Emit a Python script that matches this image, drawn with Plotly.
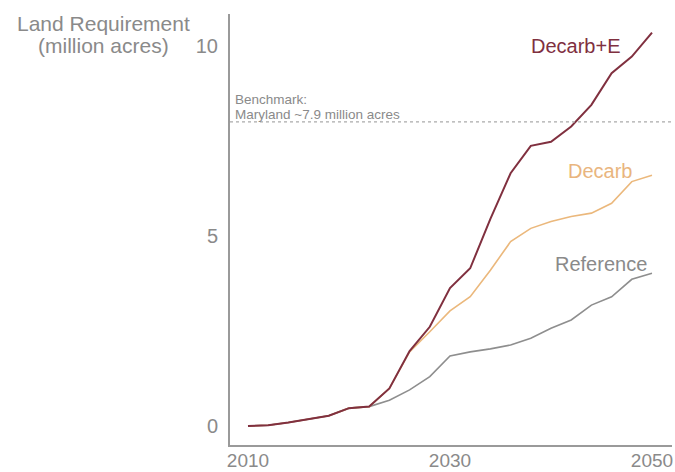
import plotly.graph_objects as go

years = [2010, 2012, 2014, 2016, 2018, 2020, 2022, 2024, 2026, 2028, 2030,
         2032, 2034, 2036, 2038, 2040, 2042, 2044, 2046, 2048, 2050]
reference = [0.0, 0.02, 0.09, 0.18, 0.27, 0.47, 0.51, 0.68, 0.95, 1.3, 1.84,
             1.95, 2.03, 2.13, 2.31, 2.57, 2.79, 3.18, 3.4, 3.86, 4.02]
decarb = [0.0, 0.02, 0.09, 0.18, 0.27, 0.47, 0.51, 0.99, 1.95, 2.48, 3.03,
          3.4, 4.1, 4.85, 5.2, 5.38, 5.51, 5.6, 5.86, 6.43, 6.6]
decarb_e = [0.0, 0.02, 0.09, 0.18, 0.27, 0.47, 0.51, 0.99, 1.97, 2.61, 3.63,
            4.15, 5.45, 6.65, 7.37, 7.48, 7.88, 8.45, 9.28, 9.72, 10.35]
benchmark = 8.0
benchmark_text = ["Benchmark:", "Maryland ~7.9 million acres"]
series_names = ["Reference", "Decarb", "Decarb+E"]
ticks_x = [2010, 2030, 2050]
ticks_y = [0, 5, 10]
title_lines = ["Land Requirement", "(million acres)"]

colors = {"Reference": "#8e8e8e", "Decarb": "#ebb87c", "Decarb+E": "#80303f"}
label_colors = {"Reference": "#8a8a8a", "Decarb": "#e9b57e", "Decarb+E": "#80303f"}
widths = {"Reference": 1.6, "Decarb": 1.6, "Decarb+E": 2.0}
data = {"Reference": reference, "Decarb": decarb, "Decarb+E": decarb_e}

fig = go.Figure()
for name in series_names:
    fig.add_trace(go.Scatter(x=years, y=data[name], mode="lines", name=name,
                             line=dict(color=colors[name], width=widths[name]),
                             showlegend=False, hoverinfo="skip"))

fig.add_shape(type="line", xref="paper", yref="y", x0=0, x1=1,
              y0=benchmark, y1=benchmark,
              line=dict(color="#aaaaaa", width=1.2, dash="dot"))

gray = "#8a8a8a"
font = "Liberation Sans, Arial, sans-serif"

# benchmark text (two lines placed separately for tighter spacing)
for i, line in enumerate(benchmark_text):
    fig.add_annotation(xref="paper", yref="y", x=0.0, xshift=3, y=benchmark,
                       yshift=7 + (1 - i) * 15, text=line,
                       showarrow=False, xanchor="left", yanchor="middle", align="left",
                       font=dict(size=13.5, color=gray, family=font))

# series end labels
label_shift = {"Decarb+E": (-29, -13), "Decarb": (-18, 4), "Reference": (-3, 9)}
for name in series_names:
    xs, ys = label_shift[name]
    fig.add_annotation(x=years[-1], y=data[name][-1], xshift=xs, yshift=ys,
                       text=name, showarrow=False, xanchor="right", yanchor="middle",
                       font=dict(size=20, color=label_colors[name], family=font))

# axis title (top-left), lines placed separately
title_shift = [-9, -31]
for line, ys in zip(title_lines, title_shift):
    fig.add_annotation(xref="paper", yref="paper", x=-0.295, xshift=4, y=1.0, yshift=ys,
                       text=line, showarrow=False, xanchor="center", yanchor="middle",
                       font=dict(size=21, color=gray, family=font))

fig.update_layout(
    width=675, height=472,
    margin=dict(l=230, r=3, t=14, b=27),
    paper_bgcolor="white", plot_bgcolor="white",
    font=dict(family=font, color=gray, size=20),
    hovermode=False,
    xaxis=dict(range=[2008.22, 2051.98], tickvals=ticks_x, showgrid=False,
               zeroline=False, showline=True, linecolor="#9a9a9a", linewidth=2,
               ticks="", automargin=False, tickfont=dict(size=19, color=gray)),
    yaxis=dict(range=[-0.5, 10.84], tickvals=ticks_y, showgrid=False,
               zeroline=False, showline=True, linecolor="#9a9a9a", linewidth=2,
               ticks="", automargin=False, tickfont=dict(size=20, color=gray)),
)
fig.update_xaxes(ticklabelstandoff=-3)
fig.update_yaxes(ticklabelstandoff=6)

fig.write_html("out.html", config={"displayModeBar": False},
               post_script="document.body.style.margin='0px';")
